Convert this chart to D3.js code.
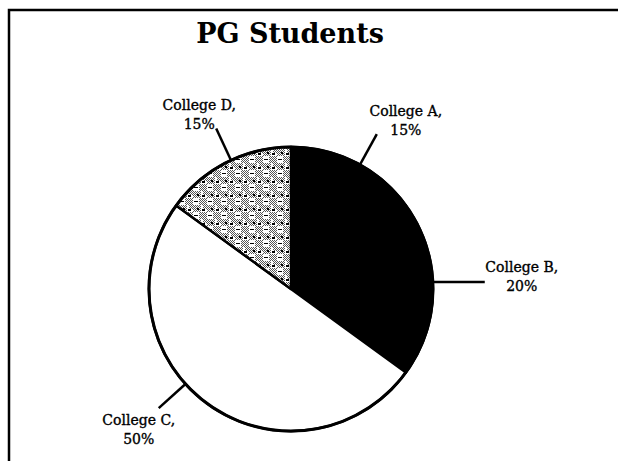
<!DOCTYPE html>
<html>
<head>
<meta charset="utf-8">
<script src="https://cdn.jsdelivr.net/npm/d3@7"></script>
<style>
  html, body { margin: 0; padding: 0; background: #fff; }
  svg { display: block; }
</style>
</head>
<body>
<div id="chart"></div>
<script>
// slice data
const categories = ["College A", "College B", "College C", "College D"];
const shares = [15, 20, 50, 15];
const title = "PG Students";

// look of each slice (scan shows A+B solid black, C white, D dithered grey)
const sliceFill = ["#000", "#000", "#fff", "url(#dither)"];
// leader: angle nudge off the slice middle (deg), length past the rim
const leaderNudge = [2, -2.8, 12, 2];
const leaderLen = [35, 52, 36, 35];
// label block offset from the leader end
const labelShift = [[29, -14], [37, -6], [-20, 21], [-17, -15]];

const W = 618, H = 461;
const cx = 291, cy = 289, r = 142;

const svg = d3.select("#chart").append("svg")
  .attr("width", W)
  .attr("height", H);

// dither pattern for College D
const defs = svg.append("defs");
const pat = defs.append("pattern")
  .attr("id", "dither")
  .attr("patternUnits", "userSpaceOnUse")
  .attr("width", 14)
  .attr("height", 14);
pat.append("rect").attr("width", 14).attr("height", 14).attr("fill", "#fff");
// grey checker dots in blocks
for (let y = 0; y < 14; y++) {
  for (let x = 0; x < 14; x++) {
    let inBlock = (x < 8 && y < 7) || (x >= 6 && y >= 7) || (x >= 10 && y < 4);
    if ((x + y) % 2 == 0 && inBlock) {
      pat.append("rect").attr("x", x).attr("y", y).attr("width", 1).attr("height", 1).attr("fill", "#555");
    }
  }
}
pat.append("rect").attr("x", 9).attr("y", 4).attr("width", 3).attr("height", 2).attr("fill", "#000");
pat.append("rect").attr("x", 1).attr("y", 10).attr("width", 4).attr("height", 1).attr("fill", "#000");
pat.append("rect").attr("x", 4).attr("y", 3).attr("width", 2).attr("height", 2).attr("fill", "#000");

// frame (top and left edges only are visible in the scan)
svg.append("path")
  .attr("d", `M${W},10 H9 V${H}`)
  .attr("fill", "none")
  .attr("stroke", "#000")
  .attr("stroke-width", 2.5);

// title
svg.append("text")
  .attr("x", cx - 1)
  .attr("y", 43)
  .attr("text-anchor", "middle")
  .attr("font-family", "'DejaVu Serif', serif")
  .attr("font-weight", "bold")
  .attr("font-size", "27px")
  .attr("fill", "#000")
  .text(title);

const pie = d3.pie().sort(null).value(d => d)
  .startAngle(0).endAngle(2 * Math.PI);
const arcs = pie(shares);
const arc = d3.arc().innerRadius(0).outerRadius(r);

const g = svg.append("g").attr("transform", `translate(${cx},${cy})`);

g.selectAll("path.slice")
  .data(arcs)
  .enter().append("path")
  .attr("class", "slice")
  .attr("d", arc)
  .attr("fill", (d, i) => sliceFill[i])
  .attr("stroke", "#000")
  .attr("stroke-width", 2.5)
  .attr("stroke-linejoin", "round");

// heavier rim
g.append("circle")
  .attr("r", r)
  .attr("fill", "none")
  .attr("stroke", "#000")
  .attr("stroke-width", 3);

// leaders + labels
function polar(a, rad) {
  return [Math.sin(a) * rad, -Math.cos(a) * rad];
}

arcs.forEach((d, i) => {
  const mid = (d.startAngle + d.endAngle) / 2 + leaderNudge[i] * Math.PI / 180;
  const p0 = polar(mid, r);
  let p1 = polar(mid, r + leaderLen[i]);
  if (i == 1) p1 = [p1[0], p0[1]]; // the B leader runs flat
  g.append("line")
    .attr("x1", p0[0]).attr("y1", p0[1])
    .attr("x2", p1[0]).attr("y2", p1[1])
    .attr("stroke", "#000")
    .attr("stroke-width", 2.5);

  const tx = p1[0] + labelShift[i][0];
  const ty = p1[1] + labelShift[i][1];
  const t = g.append("text")
    .attr("text-anchor", "middle")
    .attr("font-family", "'DejaVu Serif', serif")
    .attr("font-size", "14px")
    .attr("fill", "#000")
    .attr("stroke", "#000")
    .attr("stroke-width", 0.35);
  t.append("tspan").attr("x", tx).attr("y", ty - 4).text(categories[i] + ",");
  t.append("tspan").attr("x", tx).attr("y", ty + 15).text(shares[i] + "%");
});
</script>
</body>
</html>
